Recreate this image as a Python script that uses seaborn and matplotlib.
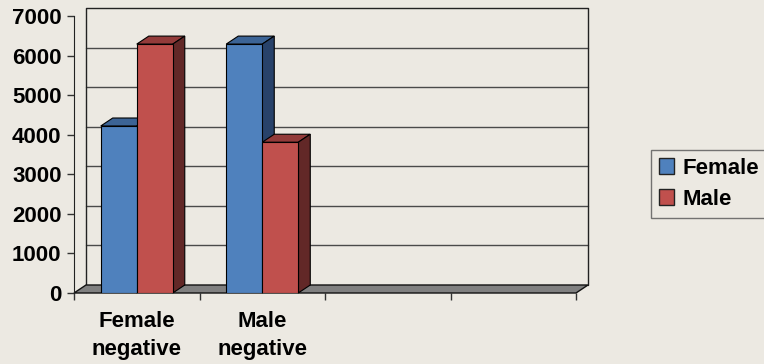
import numpy as np
import pandas as pd
import matplotlib.pyplot as plt
from matplotlib import transforms
from matplotlib.patches import Polygon, Patch
import seaborn as sns

# dados
categorias = ["Female\nnegative", "Male\nnegative"]
series = ["Female", "Male"]
valores_female = [4220, 6290]
valores_male = [6290, 3810]
n_slots = 4  # o eixo tem 4 posicoes, so 2 usadas
yticks = [0, 1000, 2000, 3000, 4000, 5000, 6000, 7000]

fundo = "#ECE9E2"
cores = {"Female": "#4F81BD", "Male": "#C0504D"}
topo = {"Female": "#3C6496", "Male": "#933B3A"}
lado = {"Female": "#28426A", "Male": "#622827"}

df = pd.DataFrame({
    "cat": categorias * 2,
    "serie": ["Female"] * 2 + ["Male"] * 2,
    "valor": valores_female + valores_male,
})

sns.set_style("white")
plt.rcParams["font.family"] = ["Liberation Sans", "DejaVu Sans"]
plt.rcParams["text.color"] = "black"
plt.rcParams["xtick.color"] = "black"
plt.rcParams["ytick.color"] = "black"

W, H = 764, 364
fig = plt.figure(figsize=(W / 100, H / 100), dpi=100, facecolor=fundo)
ax = fig.add_axes([74 / W, 71 / H, 502 / W, 277 / H])
ax.set_facecolor("none")

sns.barplot(data=df, x="cat", y="valor", hue="serie", order=categorias,
            hue_order=series, palette=cores, width=0.574, saturation=1,
            edgecolor="black", linewidth=0.8, legend=False, ax=ax, zorder=5)

ax.set_xlim(-0.5, n_slots - 0.5)
ax.set_ylim(0, 7000)
ax.set_yticks(yticks)
ax.set_xticks([0, 1])
ax.set_xticklabels(categorias, fontsize=16, fontweight="bold", linespacing=1.45)
ax.set_xticks(np.arange(n_slots + 1) - 0.5, minor=True)
ax.tick_params(axis="x", which="major", bottom=False, length=0, pad=13)
ax.tick_params(axis="x", which="minor", bottom=True, length=5, width=1,
               color="#333333")
ax.tick_params(axis="y", left=True, length=5, width=1, color="#333333", pad=4,
               labelcolor="black")
for t in ax.get_yticklabels():
    t.set_fontsize(16)
    t.set_fontweight("bold")
ax.set_xlabel("")
ax.set_ylabel("")
for s in ["top", "right"]:
    ax.spines[s].set_visible(False)
ax.spines["left"].set_color("#222222")
ax.spines["bottom"].set_visible(False)

# profundidade 3D (pixels)
dx, dy = 12, 8
td = ax.transData

def px(x, y):
    return td.transform((x, y))

x0, x1 = ax.get_xlim()
# parede do fundo e linhas de grade
tras = transforms.offset_copy(td, fig=fig, x=dx, y=dy, units="dots")
for v in yticks[1:-1]:
    ax.plot([x0, x1], [v, v], color="#4a4a4a", lw=1, transform=tras,
            clip_on=False, zorder=1)
ax.plot([x0, x0, x1, x1], [0, 7000, 7000, 0], color="#222222", lw=1,
        transform=tras, clip_on=False, zorder=1)
# parede esquerda (topo)
a, b = px(x0, 7000), px(x0, 7000) + [dx, dy]
ax.add_line(plt.Line2D([a[0], b[0]], [a[1], b[1]], color="#222222", lw=1,
                       transform=transforms.IdentityTransform(), zorder=1))
# piso
p = [px(x0, 0), px(x1, 0), px(x1, 0) + [dx, dy], px(x0, 0) + [dx, dy]]
ax.add_patch(Polygon(p, closed=True, facecolor="#808080", edgecolor="#111111",
                     lw=1, transform=transforms.IdentityTransform(),
                     clip_on=False, zorder=2))

# faces de cima e lateral das barras
for bar, serie in zip(ax.patches[:4], ["Female"] * 2 + ["Male"] * 2):
    bx, bw, bh = bar.get_x(), bar.get_width(), bar.get_height()
    tl, tr, br = px(bx, bh), px(bx + bw, bh), px(bx + bw, 0)
    face_topo = [tl, tr, tr + [dx, dy], tl + [dx, dy]]
    face_lado = [br, tr, tr + [dx, dy], br + [dx, dy]]
    for pts, c in [(face_topo, topo[serie]), (face_lado, lado[serie])]:
        ax.add_patch(Polygon(pts, closed=True, facecolor=c, edgecolor="black",
                             lw=0.8, transform=transforms.IdentityTransform(),
                             clip_on=False, zorder=4))

# legenda
handles = [Patch(facecolor=cores[s], edgecolor="#222222", label=s) for s in series]
leg = fig.legend(handles=handles, loc="upper left",
                 bbox_to_anchor=(651 / W, (H - 150) / H), frameon=True,
                 prop={"size": 16, "weight": "bold"}, handlelength=0.7,
                 handleheight=0.7, handletextpad=0.35, borderpad=0.35,
                 labelspacing=0.45, fancybox=False, borderaxespad=0)
leg.get_frame().set_facecolor(fundo)
leg.get_frame().set_edgecolor("#555555")
for t in leg.get_texts():
    t.set_color("black")

fig.savefig("out.png", dpi=100, facecolor=fundo)
